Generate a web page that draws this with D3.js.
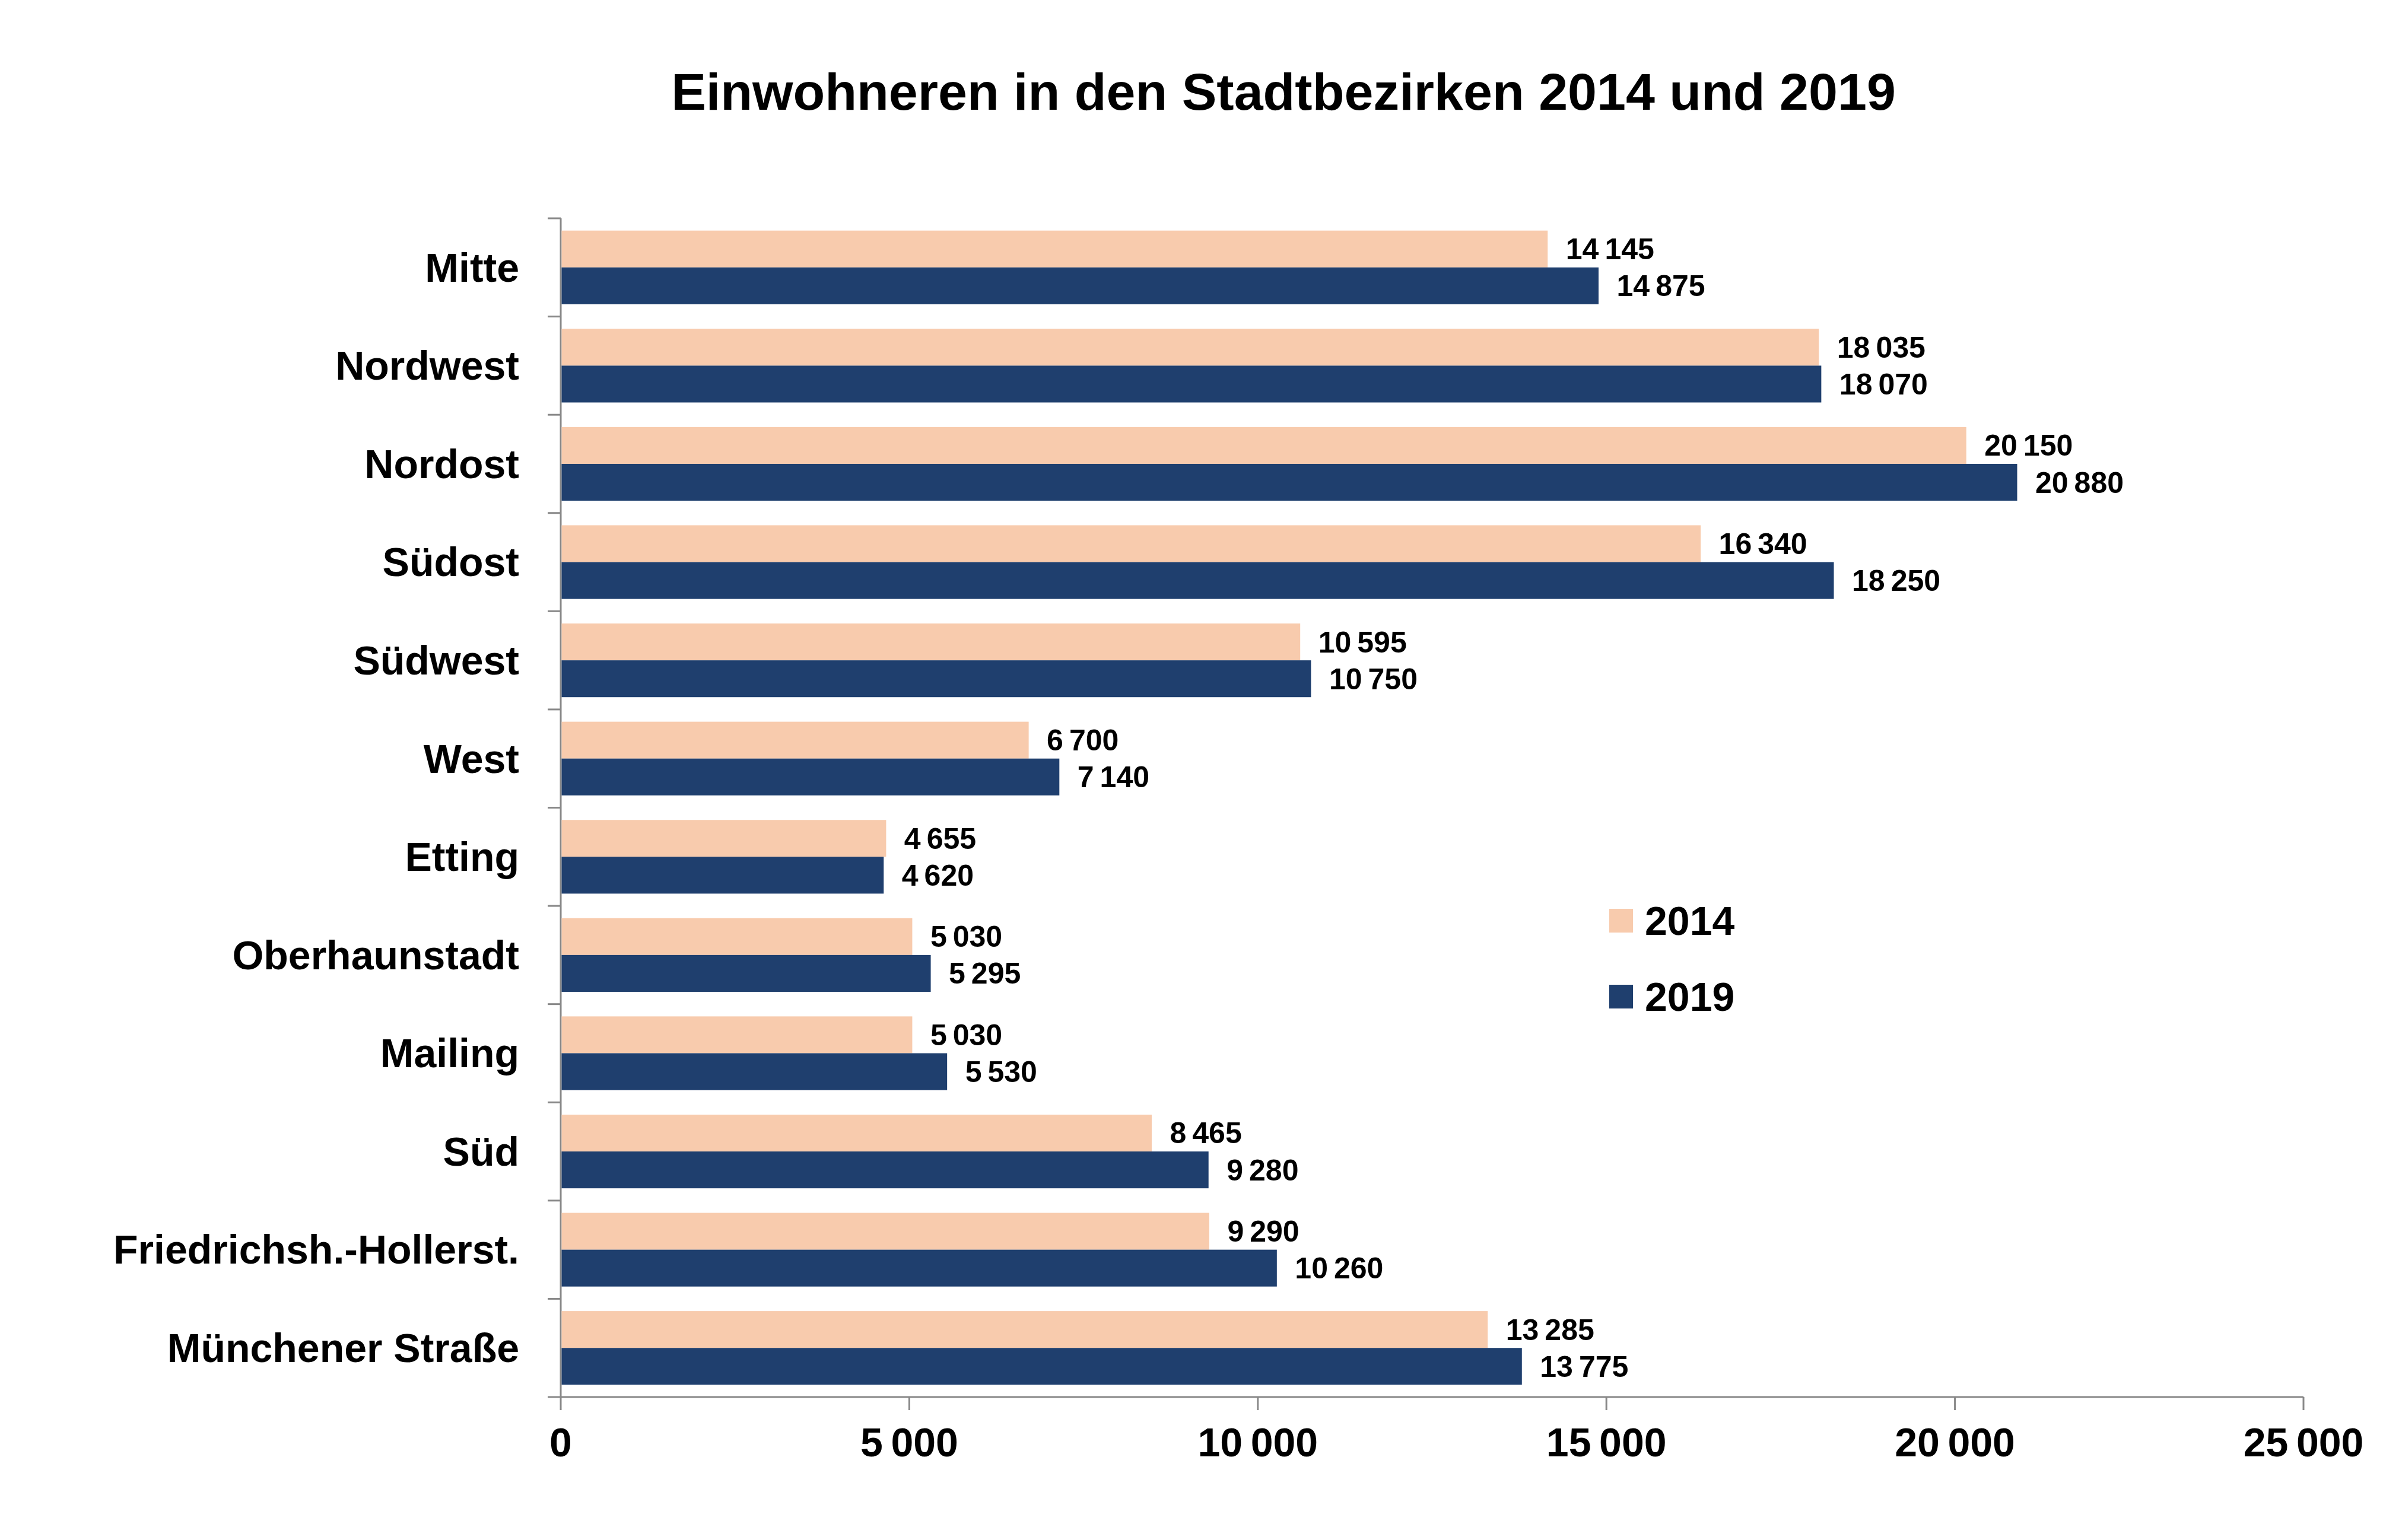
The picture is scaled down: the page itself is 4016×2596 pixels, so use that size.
<!DOCTYPE html>
<html><head><meta charset="utf-8">
<script src="https://cdn.jsdelivr.net/npm/d3@7"></script>
<style>body{margin:0;background:#fff}</style>
</head><body><div id="svg"></div>
<script>
let categories = ['Mitte','Nordwest','Nordost','Südost','Südwest','West','Etting','Oberhaunstadt','Mailing','Süd','Friedrichsh.-Hollerst.','Münchener Straße']
let values2014 = [14145,18035,20150,16340,10595,6700,4655,5030,5030,8465,9290,13285]
let values2019 = [14875,18070,20880,18250,10750,7140,4620,5295,5530,9280,10260,13775]
let seriesNames = ['2014','2019']
let colors = ['#F8CBAD','#1F3F6E']
let xTicks = [0,5000,10000,15000,20000,25000]

let W = 4016, H = 2596
let margin = {top: 368, right: 134, bottom: 241, left: 945}
let font = 'Liberation Sans, Arial, sans-serif'
let fmt = v => d3.format(',')(v).replace(/,/g, '\u202F')

let svg = d3.select('#svg').append('svg').attr('width', W).attr('height', H)

svg.append('text').text('Einwohneren in den Stadtbezirken 2014 und 2019')
.attr('x', 2163).attr('y', 185).attr('text-anchor', 'middle')
.style('font-family', font).style('font-weight', 'bold').style('font-size', 88)

let x = d3.scaleLinear().domain([0, 25000]).range([margin.left, W - margin.right])
let y = d3.scaleBand().domain(categories).range([margin.top, H - margin.bottom]).paddingInner(0.25).paddingOuter(0.125)
let sub = d3.scaleBand().domain(seriesNames).range([0, y.bandwidth()])

// axes
let yAxis = svg.append('g').attr('transform', `translate(${margin.left},0)`)
yAxis.append('line').attr('y1', margin.top).attr('y2', H - margin.bottom).attr('stroke', '#888').attr('stroke-width', 3)
let bounds = d3.range(categories.length + 1).map(i => margin.top + i * y.step())
yAxis.selectAll('.tk').data(bounds).join('line').attr('x1', -22).attr('x2', 0)
.attr('y1', d => d).attr('y2', d => d).attr('stroke', '#888').attr('stroke-width', 3)
yAxis.selectAll('text').data(categories).join('text').text(d => d)
.attr('x', -70).attr('y', d => y(d) + y.bandwidth() / 2).attr('dy', '0.35em')
.attr('text-anchor', 'end').style('font-family', font).style('font-weight', 'bold').style('font-size', 68)

let xAxis = svg.append('g').attr('transform', `translate(0,${H - margin.bottom})`)
xAxis.append('line').attr('x1', margin.left).attr('x2', W - margin.right).attr('stroke', '#888').attr('stroke-width', 3)
xAxis.selectAll('.tk').data(xTicks).join('line').attr('x1', d => x(d)).attr('x2', d => x(d))
.attr('y1', 0).attr('y2', 22).attr('stroke', '#888').attr('stroke-width', 3)
xAxis.selectAll('text').data(xTicks).join('text').text(d => fmt(d))
.attr('x', d => x(d)).attr('y', 100).attr('text-anchor', 'middle')
.style('font-family', font).style('font-weight', 'bold').style('font-size', 68)

let series = [values2014, values2019]
series.forEach((vals, si) => {
	let g = svg.append('g')
	g.selectAll('rect').data(categories).join('rect')
	.attr('x', x(0) + 1.5).attr('y', d => y(d) + sub(seriesNames[si]))
	.attr('width', (d, i) => x(vals[i]) - x(0)).attr('height', sub.bandwidth())
	.attr('fill', colors[si])
	g.selectAll('text').data(categories).join('text').text((d, i) => fmt(vals[i]))
	.attr('x', (d, i) => x(vals[i]) + 32).attr('y', d => y(d) + sub(seriesNames[si]) + sub.bandwidth() / 2).attr('dy', '0.35em')
	.style('font-family', font).style('font-weight', 'bold').style('font-size', 50)
})

// legend
let leg = svg.selectAll('.leg').data(seriesNames).join('g').attr('class', 'leg')
.attr('transform', (d, i) => `translate(2712,${1532 + i * 128})`)
leg.append('rect').attr('width', 40).attr('height', 40).attr('fill', (d, i) => colors[i])
leg.append('text').text(d => d).attr('x', 60).attr('y', 20).attr('dy', '0.35em')
.style('font-family', font).style('font-weight', 'bold').style('font-size', 68)
</script></body></html>
